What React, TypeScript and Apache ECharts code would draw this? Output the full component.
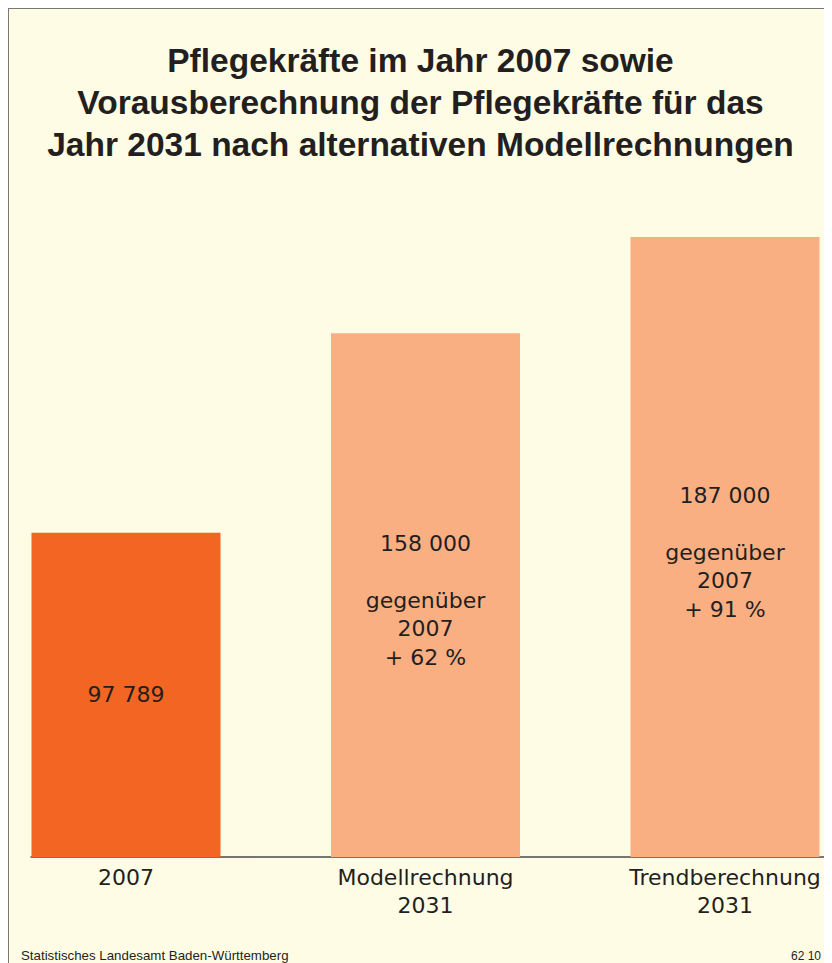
import React, { useEffect, useRef } from "react";
import * as echarts from "echarts";

const titleLines = [
  "Pflegekräfte im Jahr 2007 sowie",
  "Vorausberechnung der Pflegekräfte für das",
  "Jahr 2031 nach alternativen Modellrechnungen",
];
const categories = ["2007", "Modellrechnung\n2031", "Trendberechnung\n2031"];
const values = [97789, 158000, 187000];
const valueLabels = ["97 789", "158 000", "187 000"];
const changeLabels = ["", "+ 62 %", "+ 91 %"];
const barColors = ["#F26522", "#FAAF82", "#FAAF82"];
const source = "Statistisches Landesamt Baden-Württemberg";
const code = "62 10";

const FONT = "'Liberation Sans', Arial, Helvetica, sans-serif";
const LFONT = "'DejaVu Sans', 'Liberation Sans', sans-serif";
const TEXT = "#231F20";

export default function App() {
  const ref = useRef<HTMLDivElement>(null);
  useEffect(() => {
    if (!ref.current) return;
    const chart = echarts.init(ref.current, undefined, { renderer: "svg" });
    chart.setOption({
      animation: false,
      backgroundColor: "#FFFCE6",
      textStyle: { fontFamily: FONT },
      title: {
        text: titleLines.join("\n"),
        left: "center",
        top: 25,
        textStyle: {
          fontFamily: FONT,
          fontSize: 33.5,
          fontWeight: "bold",
          lineHeight: 42,
          color: TEXT,
        },
      },
      grid: { left: 22, right: 0, top: 185, bottom: 106 },
      xAxis: {
        type: "value",
        min: -0.3172,
        max: 2.3573,
        splitLine: { show: false },
        axisTick: { show: false },
        axisLine: { show: true, onZero: false, lineStyle: { color: "#4A4A4A", width: 1.5 } },
        axisLabel: {
          customValues: [0, 1, 2],
          formatter: (v: number) => categories[Math.round(v)] ?? "",
          fontSize: 22,
          lineHeight: 28,
          color: TEXT,
          margin: 6,
          fontFamily: LFONT,
        },
      },
      yAxis: {
        type: "value",
        min: 0,
        max: 200000,
        show: false,
        splitLine: { show: false },
      },
      series: [
        {
          type: "bar",
          barWidth: 189,
          data: values.map((v, i) => ({
            value: [i, v],
            itemStyle: { color: barColors[i] },
            label: { offset: [0, changeLabels[i] ? 5 : 0] },
          })),
          label: {
            show: true,
            position: "inside",
            fontSize: 22,
            lineHeight: 28.5,
            color: TEXT,
            fontFamily: LFONT,
            formatter: (p: any) => {
              const i = p.dataIndex;
              if (!changeLabels[i]) return valueLabels[i];
              return `${valueLabels[i]}\n\ngegenüber\n2007\n${changeLabels[i]}`;
            },
          },
        },
      ],
      graphic: [
        {
          type: "text",
          left: 12,
          bottom: 1,
          style: { text: source, fontSize: 13.3, fill: TEXT, fontFamily: FONT },
        },
        {
          type: "text",
          right: 11,
          bottom: 1,
          style: { text: code, fontSize: 12, fill: TEXT, fontFamily: FONT },
        },
      ],
    });
    return () => chart.dispose();
  }, []);
  return (
    <div
      style={{
        width: 824,
        height: 955,
        boxSizing: "border-box",
        borderLeft: "1px solid #777",
        borderTop: "1px solid #777",
        background: "#FFFCE6",
      }}
    >
      <div ref={ref} style={{ width: 823, height: 954 }} />
    </div>
  );
}
